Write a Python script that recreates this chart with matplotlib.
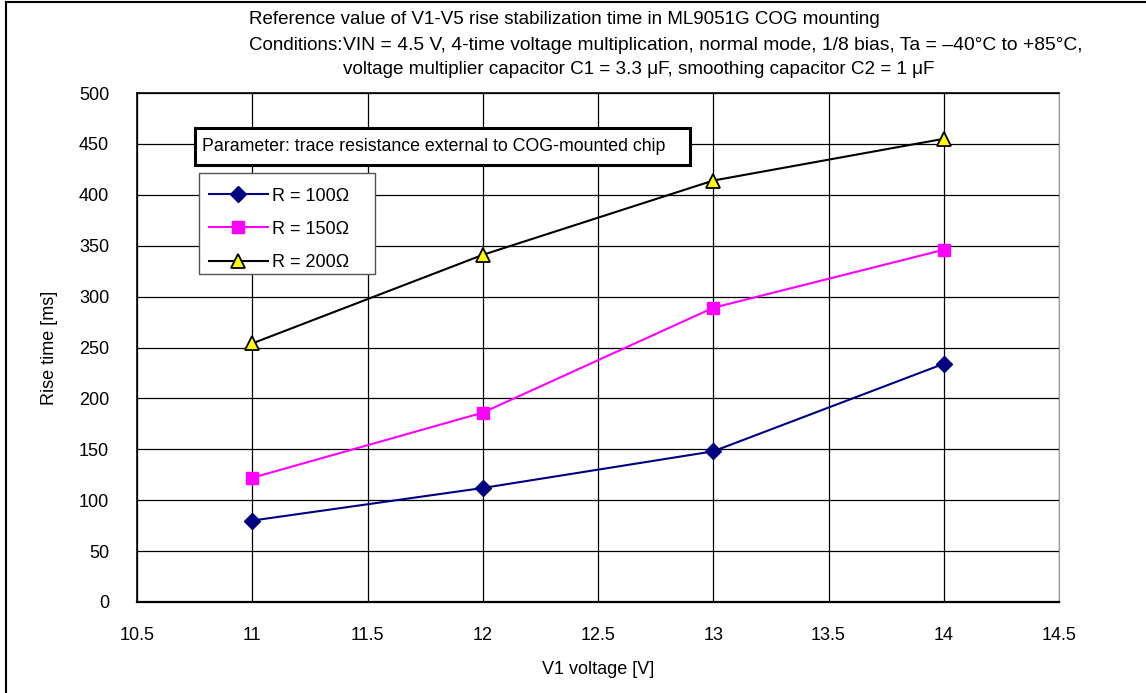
import matplotlib
matplotlib.use("Agg")
from matplotlib import pyplot as plt
from matplotlib.lines import Line2D
from matplotlib.patches import Rectangle

plt.rcParams["font.family"] = ["Liberation Sans", "DejaVu Sans"]

# data
voltage = [11, 12, 13, 14]
rise_100 = [80, 112, 148, 234]
rise_150 = [122, 186, 289, 346]
rise_200 = [254, 341, 414, 455]
labels = ["R = 100Ω", "R = 150Ω", "R = 200Ω"]
x_ticks = [10.5, 11, 11.5, 12, 12.5, 13, 13.5, 14, 14.5]
y_ticks = [0, 50, 100, 150, 200, 250, 300, 350, 400, 450, 500]

W, H = 1146, 693
L, R, T, B = 137, 1059, 93, 602
fig = plt.figure(figsize=(W / 100, H / 100), dpi=100)
ax = fig.add_axes([L / W, 1 - B / H, (R - L) / W, (B - T) / H])


def ax_xy(px, py):
    # pixel position -> axes fraction
    return (px - L) / (R - L), 1 - (py - T) / (B - T)


ax.plot(voltage, rise_100, color="#000080", lw=1.5, marker="D", ms=8,
        mfc="#000080", mec="#000080", label=labels[0], zorder=3)
ax.plot(voltage, rise_150, color="#FF00FF", lw=1.5, marker="s", ms=9,
        mfc="#FF00FF", mec="#FF00FF", label=labels[1], zorder=3)
ax.plot(voltage, rise_200, color="black", lw=1.5, marker="^", ms=10,
        mfc="#FFFF00", mec="black", mew=1.3, label=labels[2], zorder=3)

ax.set_xlim(10.5, 14.5)
ax.set_ylim(0, 500)
ax.set_xticks(x_ticks)
ax.set_xticklabels([f"{v:g}" for v in x_ticks])
ax.set_yticks(y_ticks)
ax.grid(True, color="black", lw=0.9)
ax.set_axisbelow(True)
ax.tick_params(length=0, labelsize=13)
ax.tick_params(axis="y", pad=20)
ax.tick_params(axis="x", pad=18)
ax.spines["left"].set_linewidth(1.2)
ax.spines["bottom"].set_linewidth(1.6)
ax.spines["top"].set_linewidth(1.2)
ax.spines["right"].set_color("#999999")

ax.set_ylabel("Rise time [ms]", fontsize=13, labelpad=15)
ax.set_xlabel("V1 voltage [V]", fontsize=13, labelpad=12)

# legend frame drawn by hand (the original is top-heavy)
lx0, ly1 = ax_xy(199, 173)
lx1, ly0 = ax_xy(375, 274)
ax.add_patch(Rectangle((lx0, ly0), lx1 - lx0, ly1 - ly0, transform=ax.transAxes,
                       fc="white", ec="#555555", lw=1.0, zorder=4))
leg = ax.legend(loc="upper left", bbox_to_anchor=ax_xy(195, 174),
                fontsize=13, frameon=False,
                handlelength=3.3, handletextpad=0.2, borderpad=0.75,
                labelspacing=0.9, borderaxespad=0)
leg.set_zorder(5)

# parameter box
x0, y1 = ax_xy(195, 128)
x1, y0 = ax_xy(690, 165)
ax.add_patch(Rectangle((x0, y0), x1 - x0, y1 - y0, transform=ax.transAxes,
                       fc="white", ec="black", lw=2.2, zorder=5))
ax.text(ax_xy(202, 0)[0], (y0 + y1) / 2,
        "Parameter: trace resistance external to COG-mounted chip",
        transform=ax.transAxes, fontsize=12.75, va="center", ha="left", zorder=6)

fig.text(249 / W, 1 - 20 / H, "Reference value of V1-V5 rise stabilization time in ML9051G COG mounting",
         fontsize=13.5, va="center", ha="left")
fig.text(249 / W, 1 - 45 / H, "Conditions:", fontsize=13.5, va="center", ha="left")
fig.text(343 / W, 1 - 45 / H,
         "VIN = 4.5 V, 4-time voltage multiplication, normal mode, 1/8 bias, Ta = \u201340°C to +85°C,",
         fontsize=13.9, va="center", ha="left")
fig.text(343 / W, 1 - 70 / H,
         "voltage multiplier capacitor C1 = 3.3 μF, smoothing capacitor C2 = 1 μF",
         fontsize=13.6, va="center", ha="left")

# outer frame on left and top
fig.add_artist(Line2D([6 / W, 6 / W], [0, 1 - 2 / H], color="black", lw=1.5, transform=fig.transFigure))
fig.add_artist(Line2D([6 / W, 1], [1 - 2 / H, 1 - 2 / H], color="black", lw=1.5, transform=fig.transFigure))

fig.savefig("out.png", dpi=100)
